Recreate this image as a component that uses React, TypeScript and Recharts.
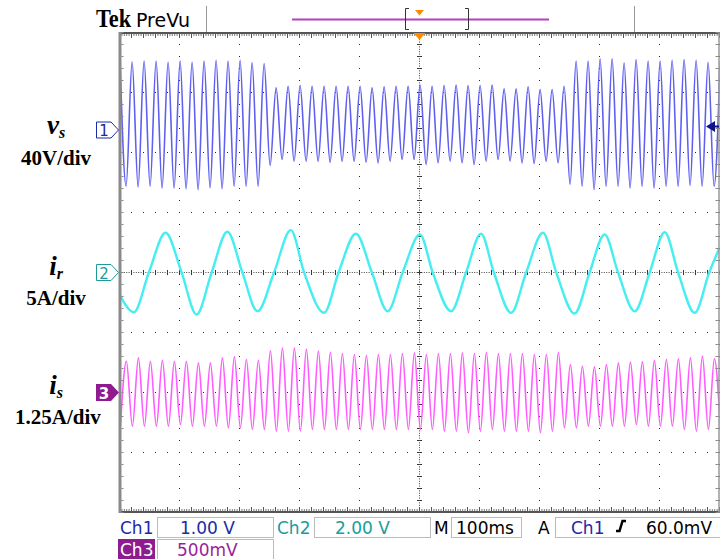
import React from 'react';
import { LineChart, Line, XAxis, YAxis, CartesianGrid, ReferenceLine } from 'recharts';

// ---- time axis (ms): 10 div x 100 ms/div ----
const timeTicks = [0, 100, 200, 300, 400, 500, 600, 700, 800, 900, 1000];
const ch2Ticks = [-20, -15, -10, -5, 0, 5, 10, 15, 20];

// ---- Ch1 (v_s, volts) 50 Hz: peak / trough values per cycle ----
const CH1_FIRST_PEAK_MS = 1;
const CH1_PERIOD_MS = 20;
const ch1Peaks = [
  45, 45.5, 45.9, 45.9, 45.2, 45.9, 45.2, 45.9, 46.5, 45.9, 46.5, 45, 44.3,
  28.1, 29.2, 29.7, 29.2, 29.2, 29.2, 29.2, 29.2, 28.1, 28.8, 29.2, 29.2, 30,
  29.2, 29.7, 29.9, 29.7, 29.7, 29.9, 27.4, 27.4, 28.8, 27, 27, 29.2,
  45.9, 45.9, 47.4, 47.4, 44.8, 47, 45.9, 45.9, 46.5, 47, 46.5, 45.2, 45.9,
];
const ch1Troughs = [
  -37.5, -38, -37.5, -38.6, -38.6, -39.2, -39.7, -38.6, -39.2, -37.5, -37.5, -37.5,
  -23.7,
  -19.7, -20.8, -20.8, -20.8, -21.5, -20.8, -20.8, -21.5, -21.9, -20.8, -19.7, -19.7,
  -23, -21.9, -20.8, -21.9, -23, -20.8, -19.7, -20.8, -21.9, -22.3, -20.8, -21.9,
  -36.3,
  -37.5, -39.7, -37.5, -37.5, -38.6, -37.5, -38.6, -37.5, -37.5, -37, -37.5, -37.5,
];

// ---- Ch2 (i_r, amps): extremes and zero crossings ----
const ch2Times = [
  0, 23.9, 48.9, 76.8, 103.5, 128.5, 153.6, 179.8, 204.8, 229.9,
  257.6, 285.5, 307.7, 341, 365.1, 394, 420.7, 446.9, 471.9, 500.8,
  522, 552.6, 577.6, 602.6, 623.9, 652.7, 677.8, 705.7, 727.9, 758.4,
  783.5, 808.5, 830.9, 858.6, 883.6, 908.7, 931, 958.7, 982.8, 1000,
];
const ch2Values = [
  -1.83, -3.31, 0, 3.31, 0, -3.5, 0, 3.39, 0, -3.23,
  0, 3.53, 0, -3.36, 0, 3.23, 0, -3.23, 0, 3.17,
  0, -3.23, 0, 3.23, 0, -3.36, 0, 3.31, 0, -3.42,
  0, 3.17, 0, -3.23, 0, 3.36, 0, -3.36, 0, 2.06,
];

// ---- Ch3 (i_s, amps) 50 Hz: peak / trough values per cycle ----
const CH3_FIRST_PEAK_MS = 11.5;
const CH3_PERIOD_MS = 20;
const ch3StartTrough = -0.7;
const ch3Peaks = [
  0.652, 0.722, 0.652, 0.673, 0.652, 0.652, 0.618, 0.618, 0.722, 0.743, 0.687, 0.673,
  0.875, 0.93, 0.93, 0.903, 0.861, 0.84, 0.812, 0.792, 0.771, 0.792, 0.792, 0.812, 0.826,
  0.792, 0.812, 0.812, 0.826, 0.812, 0.84, 0.812, 0.812, 0.812, 0.792, 0.792, 0.84,
  0.583, 0.548, 0.535, 0.583, 0.618, 0.632, 0.639, 0.673, 0.687, 0.701, 0.722, 0.757, 0.701,
];
const ch3Troughs = [
  -0.701, -0.701, -0.701, -0.701, -0.667, -0.701, -0.701, -0.701, -0.736, -0.736, -0.771, -0.771,
  -0.806, -0.806, -0.806, -0.771, -0.771, -0.771, -0.771, -0.771, -0.771, -0.771, -0.771, -0.771,
  -0.771, -0.771, -0.806, -0.806, -0.84, -0.806, -0.771, -0.806, -0.806, -0.806, -0.84, -0.806,
  -0.736, -0.736, -0.701, -0.701, -0.701, -0.701, -0.667, -0.701, -0.701, -0.701, -0.771, -0.806,
  -0.771, -0.771,
];

function buildCycles(peaks: number[], troughs: number[], firstPeak: number, period: number) {
  const rows: { t: number; v: number }[] = [];
  peaks.forEach((p, k) => {
    rows.push({ t: firstPeak + k * period, v: p });
    if (k < troughs.length) rows.push({ t: firstPeak + period / 2 + k * period, v: troughs[k] });
  });
  return rows;
}

const ch1Data = buildCycles(ch1Peaks, ch1Troughs, CH1_FIRST_PEAK_MS, CH1_PERIOD_MS);
const ch2Data = ch2Times.map((t, i) => ({ t, v: ch2Values[i] }));
const ch3Data = [
  { t: CH3_FIRST_PEAK_MS - CH3_PERIOD_MS / 2, v: ch3StartTrough },
  ...buildCycles(ch3Peaks, ch3Troughs, CH3_FIRST_PEAK_MS, CH3_PERIOD_MS),
];

const SANS = "'DejaVu Sans', 'Noto Sans', sans-serif";
const SERIF = "'Liberation Serif', 'Times New Roman', serif";
const C1 = '#5f5ff2';
const C2 = '#45eef0';
const C3 = '#ff5cff';
const C1_TXT = '#1c2aa6';
const C2_TXT = '#1a9c9c';
const C3_TXT = '#9a1e9a';

const Overlay = () => (
  <svg width={720} height={559} style={{ position: 'absolute', left: 0, top: 0, pointerEvents: 'none' }}>
    {/* top bar */}
    <text x={96} y={27} fontFamily={SERIF} fontWeight="bold" fontSize={25} fill="#000" textLength={35} lengthAdjust="spacingAndGlyphs">Tek</text>
    <text x={136} y={27} fontFamily={SANS} fontSize={19} fill="#000">PreVu</text>
    <line x1={206.5} y1={6} x2={206.5} y2={32} stroke="#999" />
    <line x1={634.5} y1={6} x2={634.5} y2={32} stroke="#999" />
    <line x1={292} y1={19.5} x2={549} y2={19.5} stroke="#b540c0" strokeWidth={2} />
    <path d="M409,8.5 H405.5 V29.5 H409" stroke="#333" fill="none" />
    <path d="M465,8.5 H468.5 V29.5 H465" stroke="#333" fill="none" />
    <path d="M415,10 L424,10 L419.5,15.5 Z" fill="#ff8a00" />
    {/* graticule borders / rulers */}
    <line x1={119} y1={33} x2={720} y2={33} stroke="#555" strokeWidth={2} />
    <line x1={119} y1={35} x2={720} y2={35} stroke="#777" strokeWidth={2} strokeDasharray="1 1.4" />
    <line x1={119} y1={36} x2={720} y2={36} stroke="#555" strokeWidth={4} strokeDasharray="1 11" />
    <line x1={119} y1={512} x2={720} y2={512} stroke="#555" strokeWidth={2} />
    <line x1={119} y1={510} x2={720} y2={510} stroke="#777" strokeWidth={2} strokeDasharray="1 1.4" />
    <line x1={119} y1={509} x2={720} y2={509} stroke="#555" strokeWidth={4} strokeDasharray="1 11" />
    <line x1={120} y1={32} x2={120} y2={513} stroke="#8a8a8a" strokeWidth={3} />
    <line x1={122.5} y1={32} x2={122.5} y2={513} stroke="#888" strokeWidth={2} strokeDasharray="1 11" />
    <line x1={719} y1={32} x2={719} y2={513} stroke="#999" strokeWidth={1.5} />
    <line x1={717} y1={32} x2={717} y2={513} stroke="#888" strokeWidth={3} strokeDasharray="1 11" />
    <path d="M413.5,33 L425.5,33 L419.5,40 Z" fill="#ff8a00" />
    {/* channel markers */}
    <path d="M96.5,122 H111 L118.5,130 L111,138 H96.5 Z" fill="#fff" stroke={C1_TXT} />
    <text x={104} y={136} textAnchor="middle" fontFamily={SANS} fontSize={15} fill={C1_TXT}>1</text>
    <path d="M96.5,264.5 H111 L118.5,272.5 L111,280.5 H96.5 Z" fill="#fff" stroke={C2_TXT} />
    <text x={104} y={278.5} textAnchor="middle" fontFamily={SANS} fontSize={15} fill={C2_TXT}>2</text>
    <path d="M96,384 H111 L119,392.5 L111,401 H96 Z" fill="#8e1c8e" />
    <text x={104} y={398.5} textAnchor="middle" fontFamily={SANS} fontSize={15} fontWeight="bold" fill="#fff">3</text>
    <path d="M706,126.5 L715,121 L715,132 Z" fill="#10108a" />
    <line x1={714} y1={126.5} x2={719} y2={126.5} stroke="#10108a" strokeWidth={2} />
    {/* left labels */}
    <text x={56} y={134} textAnchor="middle" fontFamily={SERIF} fontWeight="bold" fontStyle="italic" fontSize={27} fill="#000">
      v<tspan fontSize={16} dy={4}>s</tspan>
    </text>
    <text x={56} y={165} textAnchor="middle" fontFamily={SERIF} fontWeight="bold" fontSize={21} fill="#000">40V/div</text>
    <text x={56} y={275} textAnchor="middle" fontFamily={SERIF} fontWeight="bold" fontStyle="italic" fontSize={27} fill="#000">
      i<tspan fontSize={16} dy={4}>r</tspan>
    </text>
    <text x={56} y={305} textAnchor="middle" fontFamily={SERIF} fontWeight="bold" fontSize={21} fill="#000">5A/div</text>
    <text x={56} y={394} textAnchor="middle" fontFamily={SERIF} fontWeight="bold" fontStyle="italic" fontSize={27} fill="#000">
      i<tspan fontSize={16} dy={4}>s</tspan>
    </text>
    <text x={58} y={424} textAnchor="middle" fontFamily={SERIF} fontWeight="bold" fontSize={21} fill="#000">1.25A/div</text>
    {/* bottom status bar */}
    <rect x={157.5} y={517.5} width={116} height={20} fill="#fff" stroke="#bbb" />
    <rect x={314.5} y={517.5} width={116} height={20} fill="#fff" stroke="#bbb" />
    <rect x={451.5} y={517.5} width={70} height={20} fill="#fff" stroke="#bbb" />
    <rect x={555.5} y={517.5} width={170} height={20} fill="#fff" stroke="#bbb" />
    <rect x={157.5} y={539.5} width={116} height={22} fill="#fff" stroke="#bbb" />
    <rect x={118} y={539} width={37} height={20} fill="#8e1c8e" />
    <text x={120} y={534} fontFamily={SANS} fontSize={17} fill={C1_TXT}>Ch1</text>
    <text x={180} y={534} fontFamily={SANS} fontSize={17} fill={C1_TXT}>1.00 V</text>
    <text x={277} y={534} fontFamily={SANS} fontSize={17} fill={C2_TXT}>Ch2</text>
    <text x={335} y={534} fontFamily={SANS} fontSize={17} fill={C2_TXT}>2.00 V</text>
    <text x={434} y={534} fontFamily={SANS} fontSize={17} fill="#000">M</text>
    <text x={456} y={534} fontFamily={SANS} fontSize={17} fill="#000">100ms</text>
    <text x={538} y={534} fontFamily={SANS} fontSize={17} fill="#000">A</text>
    <text x={571} y={534} fontFamily={SANS} fontSize={17} fill={C1_TXT}>Ch1</text>
    <path d="M616,531 L619.5,531 L622.5,521 L626,521" stroke="#000" strokeWidth={2.5} fill="none" />
    <text x={646} y={534} fontFamily={SANS} fontSize={17} fill="#000">60.0mV</text>
    <text x={120} y={556} fontFamily={SANS} fontSize={17} fill="#fff">Ch3</text>
    <text x={177} y={556} fontFamily={SANS} fontSize={17} fill={C3_TXT}>500mV</text>
  </svg>
);

export default function App() {
  return (
    <div style={{ position: 'absolute', left: 0, top: 0, width: 720, height: 559, background: '#fff', overflow: 'hidden' }}>
      <LineChart width={720} height={559} margin={{ top: 32.5, right: 0.5, bottom: 46.5, left: 119.5 }}>
        <XAxis xAxisId="t" type="number" dataKey="t" domain={[0, 1000]} ticks={timeTicks} allowDataOverflow hide />
        <YAxis yAxisId="v1" type="number" domain={[-255, 65]} allowDataOverflow hide />
        <YAxis yAxisId="i2" type="number" domain={[-20, 20]} ticks={ch2Ticks} allowDataOverflow hide />
        <YAxis yAxisId="i3" type="number" domain={[-2.5, 7.5]} allowDataOverflow hide />
        <CartesianGrid xAxisId="t" yAxisId="i2" stroke="#222" strokeDasharray="1 11" strokeDashoffset={0.5} />
        <ReferenceLine xAxisId="t" yAxisId="i2" y={0} stroke="#333" strokeWidth={5} strokeDasharray="1 11" strokeDashoffset={0.5} />
        <ReferenceLine xAxisId="t" yAxisId="i2" y={0} stroke="#444" strokeDasharray="1 1.4" strokeDashoffset={0.5} />
        <ReferenceLine xAxisId="t" yAxisId="i2" x={500} stroke="#333" strokeWidth={5} strokeDasharray="1 11" strokeDashoffset={0.5} />
        <ReferenceLine xAxisId="t" yAxisId="i2" x={500} stroke="#444" strokeDasharray="1 1.4" strokeDashoffset={0.5} />
        <Line xAxisId="t" yAxisId="v1" data={ch1Data} dataKey="v" type="monotone" stroke={C1} strokeWidth={1.6} dot={false} activeDot={false} isAnimationActive={false} />
        <Line xAxisId="t" yAxisId="i2" data={ch2Data} dataKey="v" type="monotone" stroke={C2} strokeWidth={2.4} dot={false} activeDot={false} isAnimationActive={false} />
        <Line xAxisId="t" yAxisId="i3" data={ch3Data} dataKey="v" type="monotone" stroke={C3} strokeWidth={1.6} dot={false} activeDot={false} isAnimationActive={false} />
      </LineChart>
      <Overlay />
    </div>
  );
}
